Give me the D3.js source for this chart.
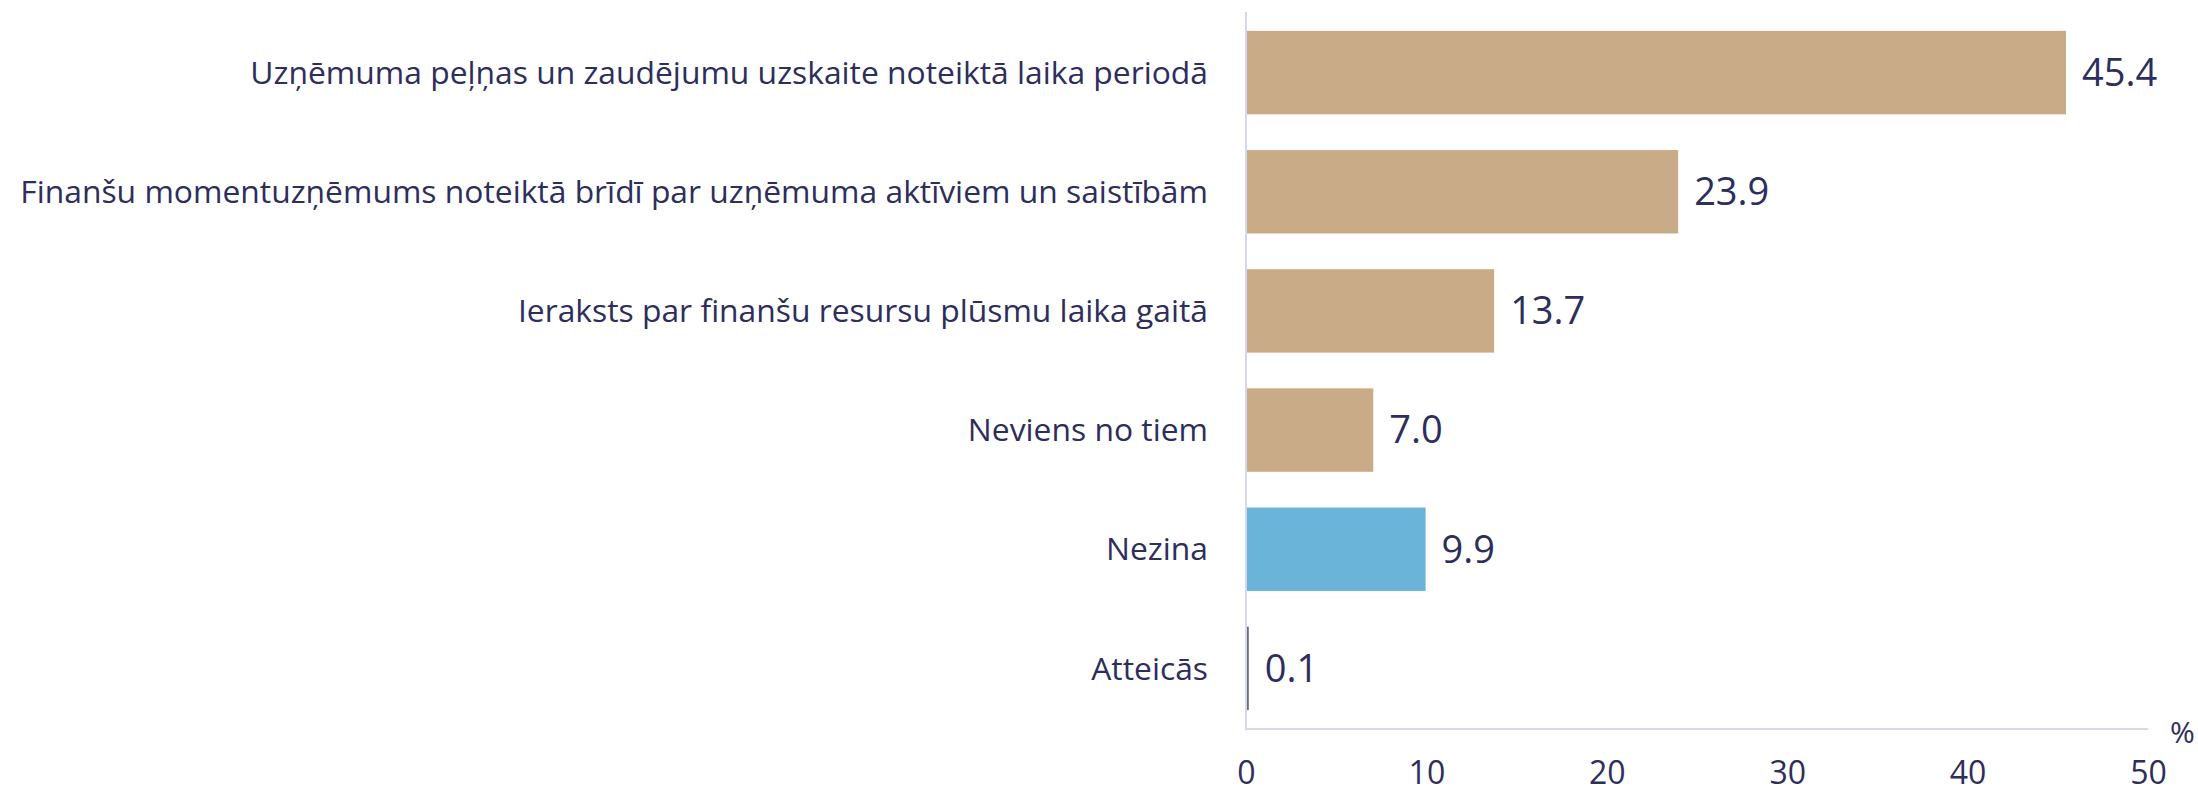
<!DOCTYPE html>
<html>
<head>
<meta charset="utf-8">
<script src="https://cdn.jsdelivr.net/npm/d3@7"></script>
<style>
  body { margin: 0; background: #fff; }
  svg { display: block; font-family: "Open Sans", "Noto Sans", sans-serif; }
</style>
</head>
<body>
<svg id="chart"></svg>
<script>
const categories = [
    "Uzņēmuma peļņas un zaudējumu uzskaite noteiktā laika periodā",
    "Finanšu momentuzņēmums noteiktā brīdī par uzņēmuma aktīviem un saistībām",
    "Ieraksts par finanšu resursu plūsmu laika gaitā",
    "Neviens no tiem",
    "Nezina",
    "Atteicās"
];
const values = [45.4, 23.9, 13.7, 7.0, 9.9, 0.1];
const barColors = ["#c9ab88", "#c9ab88", "#c9ab88", "#c9ab88", "#6ab3d9", "#6e6e82"];
const xTicks = [0, 10, 20, 30, 40, 50];

const width = 2198;
const height = 789;
const textColor = "#2e2e5c";
const axisColor = "#d5d7ea";

const svg = d3.select("#chart")
    .attr("width", width)
    .attr("height", height);

// scales
const x = d3.scaleLinear().domain([0, 50]).range([1246, 2148]);
const y = d3.scaleBand()
    .domain(categories)
    .range([13, 728])
    .paddingInner(0.3)
    .paddingOuter(0.15);

// bars
svg.append("g")
    .selectAll("rect")
    .data(values)
    .join("rect")
    .attr("x", x(0) + 1)
    .attr("y", (d, i) => y(categories[i]))
    .attr("width", d => Math.max(1.5, x(d) - x(0)))
    .attr("height", y.bandwidth())
    .attr("fill", (d, i) => barColors[i]);

// axis lines
svg.append("line")
    .attr("x1", x(0)).attr("x2", x(0))
    .attr("y1", 12).attr("y2", 729)
    .attr("stroke", axisColor)
    .attr("stroke-width", 2);

svg.append("line")
    .attr("x1", x(0) - 1).attr("x2", x(50))
    .attr("y1", 729).attr("y2", 729)
    .attr("stroke", axisColor)
    .attr("stroke-width", 2);

// x axis tick labels
const xAxis = d3.axisBottom(x)
    .tickValues(xTicks)
    .tickSize(0)
    .tickPadding(0)
    .tickFormat(d3.format("d"));

const gx = svg.append("g")
    .attr("transform", "translate(0,773)")
    .call(xAxis);
gx.select(".domain").remove();
gx.selectAll("text")
    .attr("dy", "0.35em")
    .attr("y", 0)
    .attr("fill", textColor)
    .style("font-size", "32px")
    .style("font-family", "'Open Sans', sans-serif");

svg.append("text")
    .attr("x", 2170)
    .attr("y", 732)
    .attr("dy", "0.35em")
    .attr("fill", textColor)
    .style("font-size", "30px")
    .text("%");

// category labels
const labels = svg.append("g")
    .selectAll("text")
    .data(categories)
    .join("text")
    .attr("x", 1208)
    .attr("y", d => y(d) + y.bandwidth() / 2)
    .attr("dy", "0.35em")
    .attr("text-anchor", "end")
    .attr("fill", textColor)
    .style("font-size", "33px")
    .text(d => d);

// shrink the labels so the longest one starts near the left edge
const longest = d3.max(labels.nodes(), n => n.getComputedTextLength());
const labelSize = Math.min(33, 33 * 1188 / longest);
labels.style("font-size", labelSize + "px");

// value labels
svg.append("g")
    .selectAll("text")
    .data(values)
    .join("text")
    .attr("x", d => x(d) + 17)
    .attr("y", (d, i) => y(categories[i]) + y.bandwidth() / 2)
    .attr("dy", "0.35em")
    .attr("fill", textColor)
    .style("font-size", "38px")
    .text(d => d.toFixed(1));
</script>
</body>
</html>
